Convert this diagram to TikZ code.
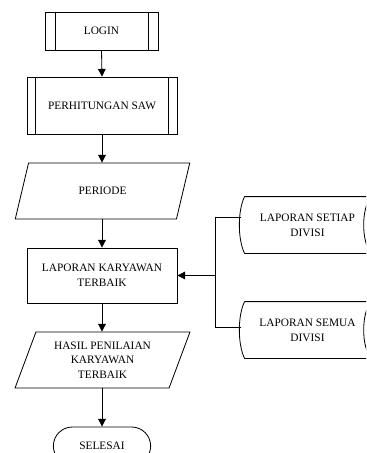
\documentclass[tikz,border=0pt]{standalone}
\usepackage{fontspec}
\setmainfont{Liberation Serif}
\usetikzlibrary{shapes, shapes.geometric, shapes.misc, arrows.meta, positioning, calc}

\tikzset{
  base/.style={draw, line width=0.7pt, align=center, inner sep=2pt, font=\fontsize{9.7}{12.5}\selectfont},
  procbox/.style={base, rectangle},
  iobox/.style={base, trapezium, trapezium left angle=69, trapezium right angle=111,
    trapezium stretches=true, minimum width=5.25cm, minimum height=1.68cm},
  endbox/.style={base, rounded rectangle, minimum width=3.06cm, minimum height=1.14cm},
  storebox/.style={align=center, font=\fontsize{9.7}{12.5}\selectfont, minimum width=3.75cm, minimum height=1.68cm},
  arrow/.style={line width=0.7pt, -{Triangle[length=6.5pt,width=6.5pt]}}
}

\begin{document}
\begin{tikzpicture}[x=0.03cm, y=-0.03cm, line width=0.7pt]
\useasboundingbox (0,0) rectangle (366,453);
\clip (0,0) rectangle (366,453);

% main column
\node[procbox, minimum width=3.39cm, minimum height=1.14cm] (login) at (101.5,31) {LOGIN};
\draw ($(login.north west)+(11,0)$) -- ($(login.south west)+(11,0)$);
\draw ($(login.north east)+(-10,0)$) -- ($(login.south east)+(-10,0)$);

\node[procbox, minimum width=4.5cm, minimum height=1.71cm] (saw) at (102,105.5) {PERHITUNGAN SAW};
\draw ($(saw.north west)+(9,0)$) -- ($(saw.south west)+(9,0)$);
\draw ($(saw.north east)+(-9,0)$) -- ($(saw.south east)+(-9,0)$);

\node[iobox] (periode) at (102.5,191) {PERIODE};

\node[procbox, minimum width=4.5cm, minimum height=1.65cm] (laporan) at (102,275.5) {LAPORAN KARYAWAN\\TERBAIK};

\node[iobox] (hasil) at (102.5,360) {HASIL PENILAIAN\\KARYAWAN\\TERBAIK};

\node[endbox] (selesai) at (102,446) {SELESAI};

% stored data on the right
\node[storebox] (setiap) at (307.5,225) {LAPORAN SETIAP\\DIVISI};
\node[storebox] (semua) at (307.5,330) {LAPORAN SEMUA\\DIVISI};
\foreach \s in {setiap, semua} {
  \draw (\s.north west) -- (\s.north east)
    .. controls ($(\s.north east)+(-9,14)$) and ($(\s.south east)+(-9,-14)$) .. (\s.south east)
    -- (\s.south west)
    .. controls ($(\s.south west)+(-7,-14)$) and ($(\s.north west)+(-7,14)$) .. (\s.north west);
}

% connectors
\draw[arrow] (login.south) -- (saw.north);
\draw[arrow] (saw.south) -- (saw.south |- periode.north);
\draw[arrow] (laporan.north |- periode.south) -- (laporan.north);
\draw[arrow] (laporan.south) -- (laporan.south |- hasil.north);
\draw[arrow] (selesai.north |- hasil.south) -- (selesai.north);

\coordinate (t1) at ($(setiap.west)+(-4,-8)$);
\coordinate (t2) at ($(semua.west)+(-4,-3)$);
\coordinate (jn) at (215,275.5);
\draw (t1) -- (t1 -| jn) -- (t2 -| jn) -- (t2);
\draw[arrow] (jn) -- (laporan.east);

\end{tikzpicture}
\end{document}
